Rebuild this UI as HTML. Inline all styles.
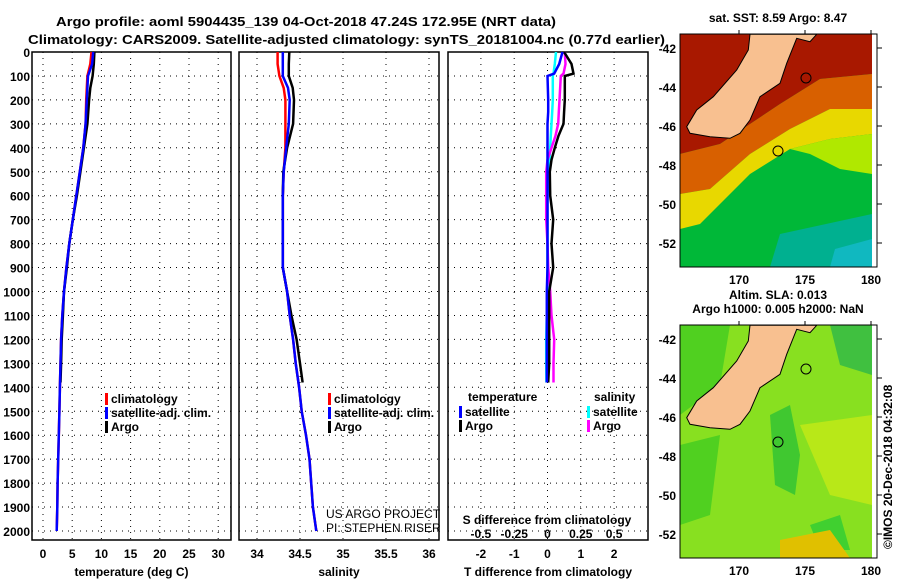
<!DOCTYPE html>
<html><head><meta charset="utf-8"><style>
body{margin:0;background:#fff;}
svg{display:block;font-family:"Liberation Sans",sans-serif;}
.t{font-weight:bold;font-size:13px;}
.tk{font-weight:bold;font-size:12px;}
</style></head><body>
<svg id="c" width="900" height="580" viewBox="0 0 900 580">
<text class="t" x="56" y="26" textLength="500" lengthAdjust="spacingAndGlyphs">Argo profile: aoml 5904435_139 04-Oct-2018 47.24S 172.95E (NRT data)</text>
<text class="t" x="28" y="44" textLength="637" lengthAdjust="spacingAndGlyphs">Climatology: CARS2009. Satellite-adjusted climatology: synTS_20181004.nc (0.77d earlier)</text>
<g id="plots"></g>
<g id="maps"></g>
</svg>
<script>
const NS="http://www.w3.org/2000/svg";
const root=document.getElementById('plots');
const mapsG=document.getElementById('maps');
// ---- data ----
const depthTicks=[0,100,200,300,400,500,600,700,800,900,1000,1100,1200,1300,1400,1500,1600,1700,1800,1900,2000];
const tempTicks=[0,5,10,15,20,25,30];
const salTicks=[34,34.5,35,35.5,36];
const tdiffTicks=[-2,-1,0,1,2];
const sdiffTicks=[-0.5,-0.25,0,0.25,0.5];
const sdiffTickLabels=["-0.5","-0.25","0","0.25","0.5"];
const argoDepth=[0,50,100,150,200,300,400,500,600,700,800,900,1000,1100,1200,1300,1380];
const argoTemp=[8.8,8.7,8.5,8.1,7.9,7.6,7.0,6.4,5.8,5.1,4.5,4.1,3.6,3.4,3.2,3.1,3.0];
const argoSal=[34.376,34.37,34.37,34.415,34.43,34.42,34.35,34.306,34.30,34.30,34.30,34.30,34.35,34.40,34.46,34.50,34.53];
const climDepth=[0,50,100,150,200,300,400,500,600,700,800,900,1000,1100,1200,1300,1400,1500,1600,1700,1800,1900,2000];
const climTemp=[8.3,8.1,7.6,7.5,7.4,7.3,6.9,6.3,5.7,5.1,4.5,4.0,3.6,3.3,3.1,3.0,2.9,2.8,2.7,2.6,2.5,2.45,2.35];
const climSal=[34.24,34.24,34.26,34.31,34.33,34.33,34.33,34.31,34.30,34.30,34.30,34.30,34.35,34.38,34.42,34.45,34.49,34.52,34.57,34.61,34.63,34.65,34.69];
const satTemp=[8.6,8.4,7.7,7.6,7.5,7.3,6.9,6.3,5.7,5.1,4.5,4.0,3.6,3.3,3.1,3.0,2.9,2.8,2.7,2.6,2.5,2.45,2.35];
const satSal=[34.30,34.30,34.30,34.36,34.38,34.37,34.34,34.31,34.30,34.30,34.30,34.30,34.35,34.38,34.42,34.45,34.49,34.52,34.57,34.61,34.63,34.65,34.69];
const diffDepth=[0,50,90,100,200,250,300,350,400,450,500,600,700,800,900,1000,1100,1200,1300,1380];
const tDiffArgo=[0.5,0.72,0.78,0.52,0.52,0.5,0.48,0.33,0.22,0.12,0.07,0.08,0.17,0.12,0.17,0.05,0.05,0.05,0.05,0.02];
const tDiffSat=[0.45,0.35,0.2,0.0,0.02,0.02,0.0,0.0,0.0,0.0,0.0,0.0,0.0,0.0,0.0,-0.02,-0.02,-0.02,-0.02,-0.02];
const sDiffSat=[0.064,0.055,0.045,0.04,0.04,0.035,0.03,0.025,0.02,0.015,0.01,0.0,0.0,0.0,0.0,0.0,-0.005,-0.01,-0.01,-0.008];
const sDiffArgo=[0.13,0.135,0.12,0.1,0.09,0.085,0.08,0.06,0.03,0.0,-0.01,-0.01,-0.01,0.0,0.005,0.02,0.03,0.05,0.045,0.045];
// ---- helpers ----
function el(tag,attrs,parent){const e=document.createElementNS(NS,tag);for(const k in attrs)e.setAttribute(k,attrs[k]);(parent||root).appendChild(e);return e;}
const yD=d=>52+d*0.2395;
function stepPath(xs,ds,sx){let p='';for(let i=0;i<xs.length;i++){const x=sx(xs[i]),y=yD(ds[i]);p+=(i?'L':'M')+x.toFixed(1)+' '+y.toFixed(1);}return p;}
function panel(x0,x1,name,ticks,sx,labels,xlabel){
  const g=el('g',{});
  
  
  el('rect',{x:x0,y:52,width:x1-x0,height:488,fill:'none',stroke:'#000','stroke-width':1.5},g);
  depthTicks.forEach(d=>{el('line',{x1:x0,x2:x1,y1:yD(d),y2:yD(d),stroke:'#000','stroke-dasharray':'1 5'},g);});
  ticks.forEach((t,i)=>{
    el('line',{x1:sx(t),x2:sx(t),y1:52,y2:540,stroke:'#000','stroke-dasharray':'1 5'},g);
    if(labels){const tx=el('text',{x:sx(t),y:558,'text-anchor':'middle',class:'tk'},g);tx.textContent=labels[i];
      
      }
  });
  if(xlabel){const t=el('text',{x:(x0+x1)/2,y:576,'text-anchor':'middle',class:'tk'},g);t.textContent=xlabel;
    
    }
  return g;
}
function series(g,xs,ds,sx,color,name,w){
  const p=el('path',{d:stepPath(xs,ds,sx),fill:'none',stroke:color,'stroke-width':w||2.5},g);
  
  
}
function legend(g,x,y,items){
  items.forEach((it,i)=>{
    el('rect',{x:x,y:y+i*14-9,width:3,height:12,fill:it[1]},g);
    const t=el('text',{x:x+6,y:y+i*14+1,class:'tk'},g);t.textContent=it[0];
    
    
  });
}
depthTicks.forEach(d=>{const t=el('text',{x:30,y:yD(d)+5,'text-anchor':'end',class:'tk'});t.textContent=d;
  
  });
const sT=v=>43+v*5.84;
const g1=panel(32,231,'temperature-panel',tempTicks,sT,tempTicks.map(String),'temperature (deg C)');
series(g1,climTemp,climDepth,sT,'#f00','climatology-temp-line');
series(g1,argoTemp,argoDepth,sT,'#000','argo-temp-line');
series(g1,satTemp,climDepth,sT,'#00f','satellite-temp-line');
legend(g1,105,402,[['climatology','#f00'],['satellite-adj. clim.','#00f'],['Argo','#000']]);
const sS=v=>257+(v-34)*86;
const g2=panel(239,439,'salinity-panel',salTicks,sS,salTicks.map(String),'salinity');
series(g2,climSal,climDepth,sS,'#f00','climatology-sal-line');
series(g2,argoSal,argoDepth,sS,'#000','argo-sal-line');
series(g2,satSal,climDepth,sS,'#00f','satellite-sal-line');
legend(g2,328,402,[['climatology','#f00'],['satellite-adj. clim.','#00f'],['Argo','#000']]);
[['US ARGO PROJECT',518],['PI: STEPHEN RISER',532]].forEach(a=>{const t=el('text',{x:326,y:a[1],'font-size':12},g2);t.textContent=a[0];
  
  });
const sTd=v=>547.5+v*33.3;
const sSd=v=>547.5+v*133.2;
const g3=panel(448,648,'difference-panel',tdiffTicks,sTd,tdiffTicks.map(String),'T difference from climatology');
series(g3,sDiffSat,diffDepth,sSd,'#0ff','sat-sal-diff-line');
series(g3,sDiffArgo,diffDepth,sSd,'#f0f','argo-sal-diff-line');
series(g3,tDiffArgo,diffDepth,sTd,'#000','argo-temp-diff-line');
series(g3,tDiffSat,diffDepth,sTd,'#00f','sat-temp-diff-line');
sdiffTicks.forEach((t,i)=>{const tx=el('text',{x:sSd(t),y:538,'text-anchor':'middle',class:'tk'},g3);tx.textContent=sdiffTickLabels[i];
  
  });
{const t=el('text',{x:547,y:524,'text-anchor':'middle',class:'tk'},g3);t.textContent='S difference from climatology';
  
  }
{const t=el('text',{x:468,y:401,class:'tk'},g3);t.textContent='temperature';
  
  }
{const t=el('text',{x:594,y:401,class:'tk'},g3);t.textContent='salinity';
  
  }
legend(g3,459,415,[['satellite','#00f'],['Argo','#000']]);
legend(g3,587,415,[['satellite','#0ff'],['Argo','#f0f']]);

// ---- maps ----
const lonTicks=[170,175,180];
const latTicks=[-42,-44,-46,-48,-50,-52];
const mx=lon=>739+(lon-170)*13.2;
function landPts(off){const z=[[240,103],[440,103],[420,125],[380,115],[350,190],[330,250],[270,290],[240,360],[210,400],[180,415],[120,410],[60,400],[50,380],[80,330],[130,290],[200,210],[235,150]];
  return z.map(p=>(670+p[0]/3).toFixed(1)+','+(p[1]/3+off).toFixed(1)).join(' ');}
function map(top,name,titleLines,fills){
  const g=el('g',{},mapsG);
  
  
  const h=233;
  const cid=name+'-clip';
  const cp=el('clipPath',{id:cid},g);el('rect',{x:680,y:top,width:192,height:h},cp);
  const fg=el('g',{'clip-path':'url(#'+cid+')'},g);
  fills.forEach(f=>{
    if(f[0]==='rect')el('rect',{x:680,y:top,width:192,height:h,fill:f[1]},fg);
    else el('polygon',{points:f[1].map(p=>(680+p[0])+','+(top+p[1])).join(' '),fill:f[2]},fg);
  });
  const off=top-34;
  el('polygon',{points:landPts(off),fill:'#f8c090',stroke:'#000','stroke-width':1},g);
  el('circle',{cx:806,cy:78+off,r:5,fill:'none',stroke:'#000'},g);
  el('circle',{cx:778,cy:151+off,r:5,fill:'none',stroke:'#000'},g);
  el('rect',{x:680,y:top,width:197,height:h,fill:'none',stroke:'#000','stroke-width':1},g);
  latTicks.forEach((lat,i)=>{const y=top+14+i*39;
    el('line',{x1:877,x2:882,y1:y,y2:y,stroke:'#000'},g);
    const t=el('text',{x:676,y:y+5,'text-anchor':'end',class:'tk'},g);t.textContent=lat;
    
    });
  lonTicks.forEach(lon=>{el('line',{x1:mx(lon),x2:mx(lon),y1:top,y2:top-4,stroke:'#000'},g);
    const t=el('text',{x:mx(lon),y:top+h+17,'text-anchor':'middle',class:'tk'},g);t.textContent=lon;
    
    });
  titleLines.forEach((s,i)=>{const t=el('text',{x:778,y:top-(titleLines.length-i)*14+2,'text-anchor':'middle',class:'tk'},g);t.textContent=s;
    
    });
}
map(34,'sst-map',['sat. SST: 8.59 Argo: 8.47'],[
 ['rect','#00b838'],
 ['poly',[[0,0],[192,0],[192,40],[140,45],[100,70],[40,110],[0,120]],'#a81800'],
 ['poly',[[0,120],[40,110],[100,70],[140,45],[192,40],[192,75],[150,75],[110,95],[70,120],[30,155],[0,160]],'#d86000'],
 ['poly',[[0,160],[30,155],[70,120],[110,95],[150,75],[192,75],[192,100],[150,105],[110,115],[70,140],[20,190],[0,195]],'#e8d800'],
 ['poly',[[110,115],[150,105],[192,100],[192,140],[160,135],[130,120]],'#b0e800'],
 ['poly',[[100,200],[192,180],[192,233],[90,233]],'#00b090'],
 ['poly',[[155,215],[192,205],[192,233],[150,233]],'#10b8c0']
]);
map(325,'sla-map',['Altim. SLA: 0.013','Argo h1000: 0.005 h2000: NaN'],[
 ['rect','#88e020'],
 ['poly',[[0,0],[50,0],[40,60],[0,90]],'#50d020'],
 ['poly',[[90,90],[110,80],[120,130],[115,170],[95,160]],'#40c830'],
 ['poly',[[150,0],[192,0],[192,50],[160,40]],'#40c040'],
 ['poly',[[0,120],[40,110],[30,190],[0,200]],'#50d020'],
 ['poly',[[130,200],[160,190],[170,225],[140,225]],'#40d030'],
 ['poly',[[100,215],[150,205],[170,233],[100,233]],'#e0c000'],
 ['poly',[[120,100],[192,90],[192,180],[150,170]],'#b8e818']
]);
{const t=el('text',{x:0,y:0,class:'tk',transform:'translate(892,549) rotate(-90)'},mapsG);t.textContent='©IMOS 20-Dec-2018 04:32:08';
  
  }
</script>
</body></html>
